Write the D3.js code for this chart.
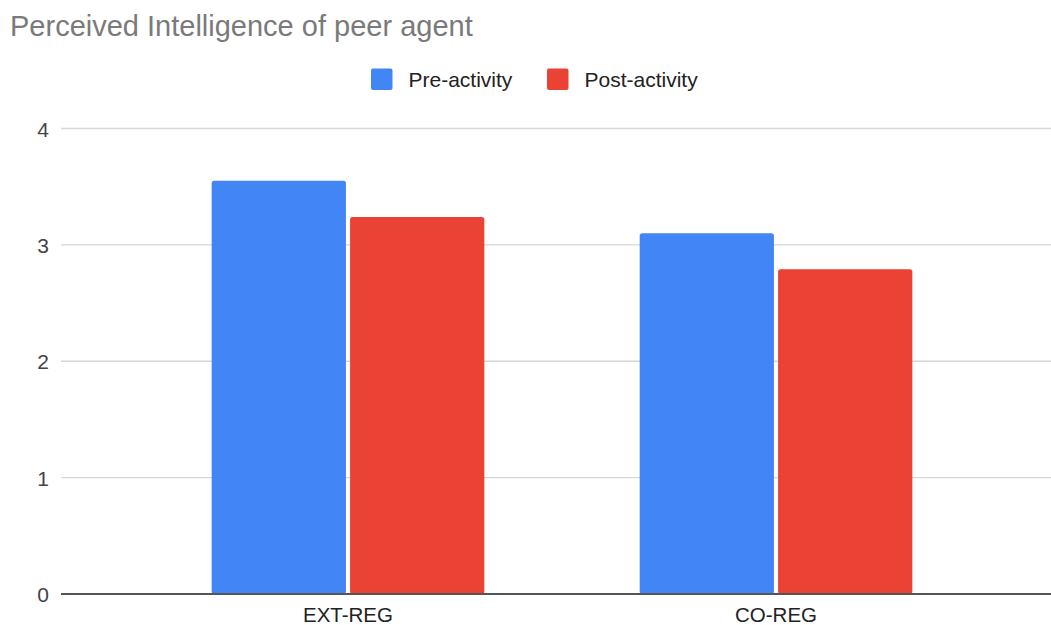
<!DOCTYPE html>
<html>
<head>
<meta charset="utf-8">
<script src="https://cdn.jsdelivr.net/npm/d3@7"></script>
<style>
  html, body { margin: 0; padding: 0; background: #fff; }
  svg { display: block; font-family: "Liberation Sans", Arial, sans-serif; }
</style>
</head>
<body>
<svg id="chart" width="1051" height="625"></svg>
<script>
// Chart data
const categories = ["EXT-REG", "CO-REG"];
const seriesNames = ["Pre-activity", "Post-activity"];
const preActivity = [3.55, 3.10];
const postActivity = [3.24, 2.79];
const yTicks = [0, 1, 2, 3, 4];
const seriesColors = ["#4285f4", "#ea4335"];

const seriesValues = [preActivity, postActivity];
const rows = categories.map((c, i) => ({
  category: c,
  values: seriesNames.map((s, j) => ({ series: s, value: seriesValues[j][i], color: seriesColors[j] }))
}));

const svg = d3.select("#chart");
const plotLeft = 61, plotRight = 1051;
const plotTop = 128.5, plotBottom = 594;

const y = d3.scaleLinear().domain([0, 4]).range([plotBottom, plotTop]);

const x0 = d3.scaleBand()
  .domain(categories)
  .range([134, 990])
  .paddingInner(0.363)
  .paddingOuter(0.1815);

const x1 = d3.scaleBand()
  .domain(seriesNames)
  .range([0, x0.bandwidth()])
  .paddingInner(0.03);

// Title
svg.append("text")
  .attr("x", 10)
  .attr("y", 36)
  .attr("font-size", 29)
  .attr("fill", "#7a7a7a")
  .text("Perceived Intelligence of peer agent");

// Legend
const legend = svg.append("g");
const legendItems = [
  { name: seriesNames[0], color: seriesColors[0], x: 371 },
  { name: seriesNames[1], color: seriesColors[1], x: 547 }
];
legendItems.forEach(d => {
  legend.append("rect")
    .attr("x", d.x).attr("y", 68.5)
    .attr("width", 21.5).attr("height", 21.5)
    .attr("rx", 2)
    .attr("fill", d.color);
  legend.append("text")
    .attr("x", d.x + 37.5).attr("y", 86.5)
    .attr("font-size", 21)
    .attr("fill", "#222")
    .text(d.name);
});

// Gridlines
svg.append("g")
  .selectAll("line")
  .data(yTicks.filter(t => t !== 0))
  .join("line")
  .attr("x1", plotLeft).attr("x2", plotRight)
  .attr("y1", d => y(d)).attr("y2", d => y(d))
  .attr("stroke", "#d6d6d6")
  .attr("stroke-width", 1.3);

// Y axis tick labels
const yAxis = d3.axisLeft(y).tickValues(yTicks).tickSize(0).tickPadding(0).tickFormat(d3.format("d"));
const yg = svg.append("g")
  .attr("transform", `translate(${plotLeft - 12},0)`)
  .call(yAxis);
yg.select(".domain").remove();
yg.selectAll("text")
  .attr("font-size", 21)
  .attr("font-family", "'Liberation Sans', Arial, sans-serif")
  .attr("fill", "#444")
  .attr("dy", "0.36em");

// Bars
const groups = svg.append("g")
  .selectAll("g")
  .data(rows)
  .join("g")
  .attr("transform", d => `translate(${x0(d.category)},0)`);

groups.selectAll("rect")
  .data(d => d.values)
  .join("rect")
  .attr("x", d => x1(d.series))
  .attr("y", d => y(d.value))
  .attr("width", x1.bandwidth())
  .attr("height", d => y(0) - y(d.value))
  .attr("rx", 2.5)
  .attr("fill", d => d.color);

// Baseline
svg.append("line")
  .attr("x1", plotLeft).attr("x2", plotRight)
  .attr("y1", y(0)).attr("y2", y(0))
  .attr("stroke", "#555")
  .attr("stroke-width", 2);

// X axis labels
const xAxis = d3.axisBottom(x0).tickSize(0).tickPadding(0);
const xg = svg.append("g")
  .attr("transform", `translate(0,${plotBottom})`)
  .call(xAxis);
xg.select(".domain").remove();
xg.selectAll("text")
  .attr("font-size", 20.5)
  .attr("font-family", "'Liberation Sans', Arial, sans-serif")
  .attr("fill", "#222")
  .attr("dy", null)
  .attr("y", 27.5);
</script>
</body>
</html>
